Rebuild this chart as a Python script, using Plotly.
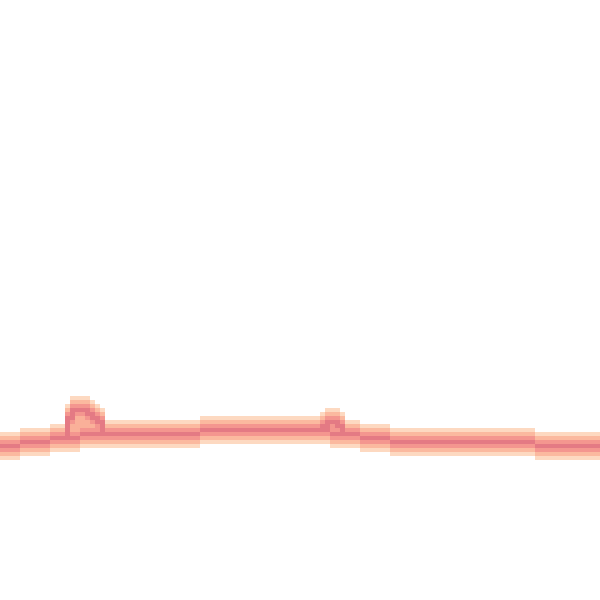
import plotly.graph_objects as go

# Grid: 120 columns (5 px) x 150 rows (4 px)
n_cols = 120
n_rows = 150
col_w = 5
row_h = 4

# Main trace centreline (pixel y per column)
main_path_y = (
    [447, 446, 445, 444] +
    [443, 442, 442, 441, 440, 440, 439, 438] +
    [437, 437, 436, 436, 435, 435, 434, 434] +
    [432] * 20 +
    [431] * 20 +
    [430] * 6 +
    [432, 434, 434, 434, 434, 434] +
    [437] * 5 +
    [439, 440, 440, 440] +
    [440] * 26 +
    [445] * 14
)
# Upper loop segments (column -> pixel y)
bump1_cols = [12, 13, 14, 15, 16, 17, 18, 19, 20]
bump1_y = [436, 418, 411, 409, 410, 412, 417, 423, 428]
bump2_cols = [63, 64, 65, 66, 67, 68]
bump2_y = [430, 426, 420, 420, 425, 432]

# Band intensity by distance from centreline (in rows)
band_profile = [4.0, 3.4, 2.3, 1.0]
loop_fill = 2.6

z = [[0.0] * n_cols for _ in range(n_rows)]

def stamp(c, r):
    for d, v in enumerate(band_profile):
        for rr in {r - d, r + d}:
            if 0 <= rr < n_rows and z[rr][c] < v:
                z[rr][c] = v

for c, y in enumerate(main_path_y[:n_cols]):
    stamp(c, int(y // row_h))

for cols, ys_ in ((bump1_cols, bump1_y), (bump2_cols, bump2_y)):
    prev = None
    for c, y in zip(cols, ys_):
        r = int(y // row_h)
        lo, hi = (r, r) if prev is None else (min(r, prev), max(r, prev))
        for rr in range(lo, hi + 1):
            stamp(c, rr)
        prev = r
        # interior of the loop between upper path and main path
        rm = int(main_path_y[c] // row_h)
        for rr in range(r, rm):
            if z[rr][c] < loop_fill:
                z[rr][c] = loop_fill

colorscale = [
    [0.0, "#ffffff"], [0.15, "#ffffff"],
    [0.15, "#fee0ca"], [0.3, "#fdd6bd"],
    [0.6, "#fbb69c"],
    [0.85, "#f4968f"],
    [1.0, "#e47a84"],
]

fig = go.Figure(go.Heatmap(
    z=z, x0=col_w / 2, dx=col_w, y0=row_h / 2, dy=row_h, zmin=0, zmax=4,
    colorscale=colorscale, showscale=False, hoverinfo="skip",
))
fig.update_layout(
    width=600, height=600,
    margin=dict(l=0, r=0, t=0, b=0),
    paper_bgcolor="white", plot_bgcolor="white",
    xaxis=dict(visible=False, range=[0, 600]),
    yaxis=dict(visible=False, range=[600, 0]),
)
fig.write_html("out.html", config={"displayModeBar": False},
               post_script="document.body.style.margin='0';")
